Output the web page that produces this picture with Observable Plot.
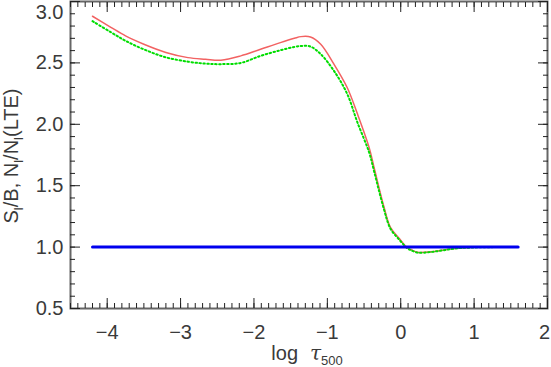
<!DOCTYPE html>
<html><head><meta charset="utf-8">
<script src="https://cdn.jsdelivr.net/npm/d3@7"></script>
<script src="https://cdn.jsdelivr.net/npm/@observablehq/plot@0.6"></script>
<style>body{margin:0;background:#fff} svg{display:block}</style>
</head><body><div id="chart"></div>
<script>
const logTau = [-4.2, -3.95, -3.75, -3.5, -3.2, -2.9, -2.66, -2.45, -2.18, -1.91, -1.64, -1.45, -1.36, -1.23, -1.09, -0.91, -0.73, -0.59, -0.43, -0.36, -0.23, -0.14, -0.02, 0.09, 0.14, 0.23, 0.41, 0.59, 0.77, 1.0, 1.3, 1.6];
const sourceRatio = [2.88, 2.79, 2.72, 2.652, 2.585, 2.543, 2.53, 2.522, 2.557, 2.611, 2.665, 2.70, 2.714, 2.711, 2.652, 2.49, 2.30, 2.085, 1.81, 1.64, 1.33, 1.16, 1.07, 0.995, 0.98, 0.958, 0.962, 0.977, 0.99, 0.998, 1.0, 1.0];
const popRatio = [2.84, 2.75, 2.68, 2.61, 2.545, 2.51, 2.494, 2.49, 2.50, 2.557, 2.603, 2.63, 2.638, 2.633, 2.571, 2.435, 2.248, 2.015, 1.77, 1.61, 1.31, 1.15, 1.06, 0.99, 0.975, 0.955, 0.96, 0.975, 0.99, 0.997, 1.0, 1.0];
const lteX = [-4.2, 1.6];
const lteY = [1, 1];
const xMajor = [-4, -3, -2, -1, 0, 1];
const xLast = [2];
const yMajor = [0.5, 1.0, 1.5, 2.0, 2.5];
const yTop = [3.0];
const xMinor = d3.range(-45, 21).map(d => d / 10);
const yMinor = d3.range(5, 31).map(d => d / 10);

const red = logTau.map((x, i) => ({x, y: sourceRatio[i]}));
const green = logTau.map((x, i) => ({x, y: popRatio[i]}));
const blue = lteX.map((x, i) => ({x, y: lteY[i]}));

const font = "'Liberation Sans', Arial, sans-serif";
const tickCol = "#222";
const txtCol = "#3a3a3a";
const xFmt = d => d < 0 ? "\u2212" + Math.abs(d) : String(d);
const chart = Plot.plot({
  width: 551, height: 367,
  marginLeft: 70, marginRight: 4, marginTop: 1, marginBottom: 59,
  x: {domain: [-4.5, 2]},
  y: {domain: [0.5, 3]},
  style: {fontFamily: font, fontSize: "20px", color: txtCol, background: "#fff"},
  marks: [
    Plot.line(red, {x: "x", y: "y", stroke: "#f26262", strokeWidth: 1.5, curve: "catmull-rom"}),
    Plot.line(green, {x: "x", y: "y", stroke: "#00dd00", strokeWidth: 2, strokeDasharray: "1.5,2.5", curve: "catmull-rom"}),
    Plot.line(blue, {x: "x", y: "y", stroke: "#0000ee", strokeWidth: 3}),
    Plot.frame({stroke: "#666", strokeWidth: 2}),
    // bottom
    Plot.axisX({anchor: "bottom", ticks: xMinor, tickSize: -5, tickFormat: () => "", stroke: tickCol, label: null}),
    Plot.axisX({anchor: "bottom", ticks: xMajor.concat(xLast), tickSize: -10, tickFormat: () => "", stroke: tickCol, label: null}),
    Plot.axisX({anchor: "bottom", ticks: xMajor, tickSize: 0, tickPadding: 16, tickFormat: xFmt, fill: txtCol, label: null}),
    Plot.axisX({anchor: "bottom", ticks: xLast, tickSize: 0, tickPadding: 16, dx: -3, tickFormat: xFmt, fill: txtCol, label: null}),
    // top
    Plot.axisX({anchor: "top", ticks: xMinor, tickSize: -5, tickFormat: () => "", stroke: tickCol, label: null}),
    Plot.axisX({anchor: "top", ticks: xMajor.concat(xLast), tickSize: -10, tickFormat: () => "", stroke: tickCol, label: null}),
    // left
    Plot.axisY({anchor: "left", ticks: yMinor, tickSize: -5, tickFormat: () => "", stroke: tickCol, label: null}),
    Plot.axisY({anchor: "left", ticks: yMajor.concat(yTop), tickSize: -10, tickFormat: () => "", stroke: tickCol, label: null}),
    Plot.axisY({anchor: "left", ticks: yMajor, tickSize: 0, tickPadding: 7, tickFormat: d3.format(".1f"), fill: txtCol, label: null}),
    Plot.axisY({anchor: "left", ticks: yTop, tickSize: 0, tickPadding: 7, dy: 11, tickFormat: d3.format(".1f"), fill: txtCol, label: null}),
    // right
    Plot.axisY({anchor: "right", ticks: yMinor, tickSize: -5, tickFormat: () => "", stroke: tickCol, label: null}),
    Plot.axisY({anchor: "right", ticks: yMajor.concat(yTop), tickSize: -10, tickFormat: () => "", stroke: tickCol, label: null})
  ]
});
document.getElementById("chart").appendChild(chart);

const svg = d3.select(chart);
// x label: log τ500
const xl = svg.append("text")
  .attr("x", 307).attr("y", 360)
  .attr("text-anchor", "middle")
  .attr("font-family", font).attr("font-size", 20).attr("fill", txtCol);
xl.append("tspan").text("log ");
xl.append("tspan").attr("font-style", "italic").attr("font-family", "'DejaVu Serif', serif").text(" τ");
xl.append("tspan").attr("font-size", 13).attr("dy", 5).text("500");

// y label: S_l/B, N_l/N_l(LTE)
const yl = svg.append("text")
  .attr("transform", "translate(18,156) rotate(-90)")
  .attr("text-anchor", "middle")
  .attr("font-family", font).attr("font-size", 20).attr("fill", txtCol);
const parts = [["S", 0], ["l", 1], ["/B, N", 0], ["l", 1], ["/N", 0], ["l", 1], ["(LTE)", 0]];
let prevSub = 0;
for (const [t, sub] of parts) {
  const ts = yl.append("tspan").text(t);
  const dy = (sub - prevSub) * 5;
  if (dy) ts.attr("dy", dy);
  if (sub) ts.attr("font-size", 13);
  prevSub = sub;
}
</script>
</body></html>
